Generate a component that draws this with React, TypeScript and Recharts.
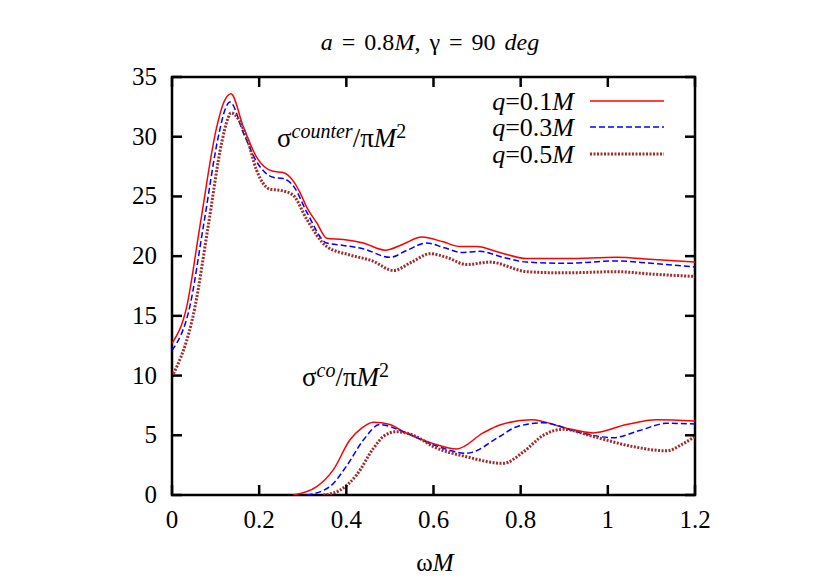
import { LineChart, Line, XAxis, YAxis, ReferenceArea } from "recharts";

// sigma^counter / pi M^2
const counterX01 = [0, 0.034, 0.064, 0.1025, 0.118, 0.135, 0.164, 0.194, 0.232, 0.255, 0.278, 0.294, 0.309, 0.332, 0.355, 0.393, 0.439, 0.489, 0.53, 0.573, 0.622, 0.661, 0.699, 0.752, 0.814, 0.905, 1.02, 1.096, 1.2];
const counterY01 = [12.7, 15.8, 22.5, 30.8, 32.8, 33.6, 30.8, 28.3, 27.1, 27.0, 26.3, 25.3, 24.1, 22.8, 21.5, 21.4, 21.1, 20.5, 21.0, 21.6, 21.2, 20.8, 20.8, 20.3, 19.8, 19.8, 19.9, 19.75, 19.5];

const counterX03 = [0, 0.041, 0.072, 0.108, 0.122, 0.133, 0.165, 0.196, 0.232, 0.255, 0.28, 0.309, 0.355, 0.393, 0.44, 0.5, 0.54, 0.584, 0.625, 0.665, 0.706, 0.76, 0.814, 0.905, 1.02, 1.1, 1.2];
const counterY03 = [12.1, 15.8, 22.5, 30.3, 32.3, 32.9, 30.2, 27.8, 26.6, 26.5, 25.8, 23.7, 21.1, 20.9, 20.6, 19.9, 20.5, 21.1, 20.7, 20.3, 20.4, 19.9, 19.5, 19.4, 19.6, 19.4, 19.1];

const counterX05 = [0, 0.053, 0.083, 0.114, 0.128, 0.135, 0.171, 0.194, 0.225, 0.25, 0.278, 0.309, 0.355, 0.408, 0.46, 0.508, 0.55, 0.592, 0.63, 0.676, 0.729, 0.814, 0.9, 1.02, 1.1, 1.2];
const counterY05 = [9.9, 15.8, 22.5, 29.5, 31.5, 32.0, 30.0, 27.2, 25.6, 25.5, 25.1, 23.1, 20.8, 20.1, 19.6, 18.8, 19.5, 20.2, 19.9, 19.3, 19.5, 18.7, 18.6, 18.7, 18.5, 18.3];

// sigma^co / pi M^2
const coX01 = [0.278, 0.332, 0.37, 0.408, 0.435, 0.462, 0.5, 0.531, 0.6, 0.653, 0.714, 0.752, 0.825, 0.905, 0.966, 1.043, 1.112, 1.2];
const coY01 = [0, 0.7, 2.1, 4.6, 5.6, 6.1, 5.9, 5.3, 4.3, 3.85, 5.2, 5.86, 6.3, 5.6, 5.2, 5.9, 6.3, 6.2];

const coX03 = [0.309, 0.362, 0.4, 0.439, 0.477, 0.53, 0.6, 0.676, 0.752, 0.79, 0.852, 0.928, 1.012, 1.073, 1.135, 1.2];
const coY03 = [0, 0.7, 2.4, 4.6, 5.9, 5.3, 4.2, 3.5, 4.9, 5.7, 6.05, 5.3, 4.8, 5.4, 6.0, 5.95];

const coX05 = [0.347, 0.385, 0.424, 0.462, 0.485, 0.515, 0.56, 0.6, 0.676, 0.76, 0.806, 0.852, 0.898, 0.966, 1.058, 1.135, 1.173, 1.2];
const coY05 = [0, 0.4, 1.7, 3.9, 4.9, 5.3, 4.9, 4.05, 3.2, 2.65, 3.6, 5.0, 5.5, 4.9, 4.05, 3.7, 4.3, 4.9];

const xTicks = [0, 0.2, 0.4, 0.6, 0.8, 1, 1.2];
const yTicks = [0, 5, 10, 15, 20, 25, 30, 35];
const legendLabels = ["0.1", "0.3", "0.5"];

const zip = (xs: number[], ys: number[]) => xs.map((x, i) => ({ x, y: ys[i] }));

// plot box (px)
const L = 172;
const R = 695;
const T = 77;
const B = 495;
const TICK = 10;
const XAXIS_H = 30;
const FONT = '"Liberation Serif", "DejaVu Serif", "Times New Roman", Times, serif';

const styles = [
  { color: "#ff0000", dash: undefined, width: 1.5 },
  { color: "#0000ff", dash: "6 3", width: 1.5 },
  { color: "#a52a2a", dash: "2 1.5", width: 3 },
];

function XTick({ x, payload }: any) {
  return (
    <g>
      <line x1={x} x2={x} y1={B} y2={B - TICK} stroke="#000" strokeWidth={2.5} />
      <line x1={x} x2={x} y1={T} y2={T + TICK} stroke="#000" strokeWidth={2.5} />
      <text x={x} y={B + 33} textAnchor="middle" style={{ fontFamily: FONT, fontSize: 25 }} fill="#000">
        {String(payload.value)}
      </text>
    </g>
  );
}

function YTick({ y, payload }: any) {
  return (
    <g>
      <line x1={L} x2={L + TICK} y1={y} y2={y} stroke="#000" strokeWidth={2.5} />
      <line x1={R - TICK} x2={R} y1={y} y2={y} stroke="#000" strokeWidth={2.5} />
      <text x={L - 15} y={y + 8} textAnchor="end" style={{ fontFamily: FONT, fontSize: 25 }} fill="#000">
        {String(payload.value)}
      </text>
    </g>
  );
}

const abs = (left: number, top: number, size: number): React.CSSProperties => ({
  position: "absolute",
  left,
  top,
  fontFamily: FONT,
  fontSize: size,
  whiteSpace: "nowrap",
  lineHeight: 1,
  color: "#000",
});

export default function App() {
  const counters = [zip(counterX01, counterY01), zip(counterX03, counterY03), zip(counterX05, counterY05)];
  const cos = [zip(coX01, coY01), zip(coX03, coY03), zip(coX05, coY05)];
  return (
    <div style={{ position: "absolute", left: 0, top: 0, width: 830, height: 580, background: "#fff", fontFamily: FONT }}>
      <LineChart
        width={830}
        height={580}
        margin={{ top: T, right: 830 - R, bottom: 580 - B - XAXIS_H, left: L - 60 }}
      >
        <XAxis
          type="number"
          dataKey="x"
          height={XAXIS_H}
          domain={[0, 1.2]}
          ticks={xTicks}
          axisLine={false}
          tickLine={false}
          tick={<XTick />}
          allowDataOverflow
        />
        <YAxis
          type="number"
          dataKey="y"
          width={60}
          domain={[0, 35]}
          ticks={yTicks}
          axisLine={false}
          tickLine={false}
          tick={<YTick />}
          allowDataOverflow
        />
        <ReferenceArea x1={0} x2={1.2} y1={0} y2={35} fill="none" stroke="#000" strokeWidth={2.5} fillOpacity={0} />
        {counters.map((d, i) => (
          <Line
            key={"c" + i}
            data={d}
            dataKey="y"
            type="monotone"
            stroke={styles[i].color}
            strokeWidth={styles[i].width}
            strokeDasharray={styles[i].dash}
            dot={false}
            isAnimationActive={false}
          />
        ))}
        {cos.map((d, i) => (
          <Line
            key={"o" + i}
            data={d}
            dataKey="y"
            type="monotone"
            stroke={styles[i].color}
            strokeWidth={styles[i].width}
            strokeDasharray={styles[i].dash}
            dot={false}
            isAnimationActive={false}
          />
        ))}
      </LineChart>

      {/* title */}
      <div style={{ ...abs(0, 30, 24), width: 860, textAlign: "center", wordSpacing: 3 }}>
        <i>a</i> = 0.8<i>M</i>, γ = 90 <i>deg</i>
      </div>

      {/* axis label */}
      <div style={{ ...abs(0, 550, 25), width: 870, textAlign: "center" }}>
        ω<i>M</i>
      </div>

      {/* annotations */}
      <div style={abs(277, 121, 27)}>
        σ<sup style={{ fontSize: 20, fontStyle: "italic", verticalAlign: 9 }}>counter</sup>/π<i>M</i>
        <sup style={{ fontSize: 20, verticalAlign: 9 }}>2</sup>
      </div>
      <div style={abs(302, 360, 27)}>
        σ<sup style={{ fontSize: 20, fontStyle: "italic", verticalAlign: 9 }}>co</sup>/π<i>M</i>
        <sup style={{ fontSize: 20, verticalAlign: 9 }}>2</sup>
      </div>

      {/* legend */}
      {legendLabels.map((q, i) => (
        <div key={q}>
          <div style={{ ...abs(400, 89 + i * 26.3, 26), width: 174, textAlign: "right" }}>
            <i>q</i>={q}<i>M</i>
          </div>
          <svg style={{ position: "absolute", left: 588, top: 94 + i * 26.3 }} width={80} height={14}>
            <line
              x1={2}
              x2={76}
              y1={7}
              y2={7}
              stroke={styles[i].color}
              strokeWidth={styles[i].width}
              strokeDasharray={styles[i].dash}
            />
          </svg>
        </div>
      ))}
    </div>
  );
}
